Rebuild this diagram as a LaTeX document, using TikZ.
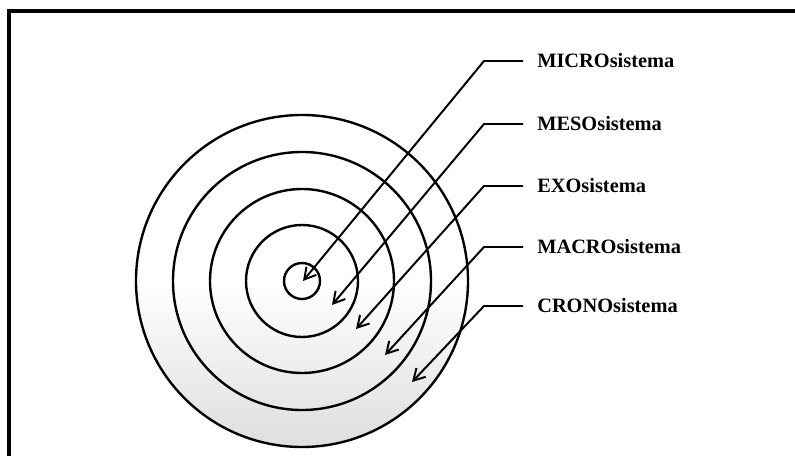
\documentclass[tikz,border=0pt]{standalone}
\usepackage{fontspec}
\setmainfont{Liberation Serif}
\usetikzlibrary{positioning}
\usetikzlibrary{arrows.meta}
\tikzset{
    ring/.style = {circle, draw=black, line width=1.7pt, inner sep=0pt},
    ringout/.style = {ring, top color=white, bottom color=black!13, middle color=white}, % outer disk
    lvl/.style = {anchor=west, inner xsep=3.5mm, inner ysep=0pt, font=\bfseries\fontsize{14.5}{16}\selectfont},
    edgel/.style = {-{Straight Barb[length=2.8mm,width=3.2mm]}, line width=1.4pt, line join=miter},
    frameline/.style = {line width=2.2pt, draw=black, line join=miter}
}
\begin{document}
\begin{tikzpicture}[x=0.25mm, y=-0.25mm]
\path[use as bounding box] (0,0) rectangle (795,456);
%
\draw[frameline] (9,456) -- (9,11) -- (795,11);
%
\node[ringout, minimum size=83mm] at (302,281) (crono) {};
\node[ring, minimum size=64.5mm] at (302,281) (macro) {};
\node[ring, minimum size=46mm] at (302,281) (exo) {};
\node[ring, minimum size=28mm] at (302,281) (meso) {};
\node[ring, minimum size=9mm] at (302,281) (micro) {};
%
\node[lvl] at (523,61) (lmicro) {MICROsistema};
\node[lvl] at (523,124) (lmeso) {MESOsistema};
\node[lvl] at (523,186) (lexo) {EXOsistema};
\node[lvl] at (523,247) (lmacro) {MACROsistema};
\node[lvl] at (523,306) (lcrono) {CRONOsistema};
%
\coordinate (tmicro) at (303,281);
\coordinate (tmeso) at (332,305);
\coordinate (texo) at (356,329);
\coordinate (tmacro) at (385,355);
\coordinate (tcrono) at (412,382);
%
\draw[edgel] (lmicro.west) -- ++(-39,0) -- (tmicro);
\draw[edgel] (lmeso.west) -- ++(-39,0) -- (tmeso);
\draw[edgel] (lexo.west) -- ++(-39,0) -- (texo);
\draw[edgel] (lmacro.west) -- ++(-39,0) -- (tmacro);
\draw[edgel] (lcrono.west) -- ++(-39,0) -- (tcrono);

\end{tikzpicture}
\end{document}
